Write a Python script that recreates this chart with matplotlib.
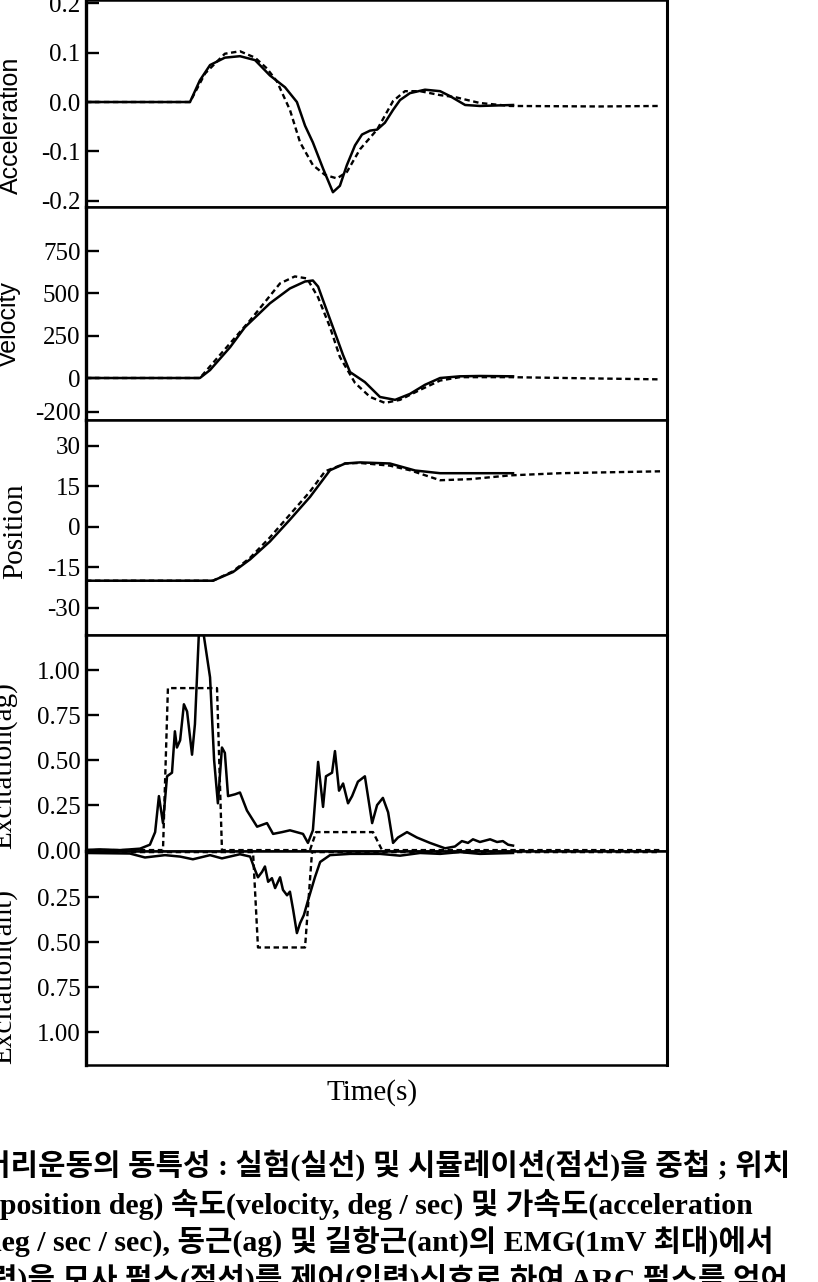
import matplotlib
matplotlib.use('Agg')
import matplotlib.pyplot as plt

# time (s) -- the original has no x tick labels, span 0..2 s
acc_t = [0, 0.358, 0.392, 0.427, 0.478, 0.530, 0.582, 0.633, 0.685, 0.726,
         0.754, 0.781, 0.816, 0.850, 0.874, 0.898, 0.926, 0.950, 0.978, 1.002,
         1.029, 1.057, 1.081, 1.115, 1.167, 1.219, 1.253, 1.305, 1.356, 1.470]
acc_exp = [0, 0, 0.044, 0.075, 0.090, 0.093, 0.085, 0.054, 0.030, 0.0,
           -0.048, -0.082, -0.135, -0.183, -0.170, -0.128, -0.088, -0.066, -0.058, -0.056,
           -0.042, -0.016, 0.004, 0.018, 0.025, 0.022, 0.012, -0.006, -0.008, -0.006]
acc_sim_t = [0, 0.358, 0.410, 0.478, 0.530, 0.582, 0.623, 0.657, 0.702, 0.737,
             0.781, 0.823, 0.864, 0.898, 0.943, 1.002, 1.057, 1.098, 1.150, 1.219,
             1.270, 1.356, 1.460, 1.769, 1.976]
acc_sim = [0, 0, 0.058, 0.098, 0.103, 0.090, 0.068, 0.042, -0.016, -0.082,
           -0.128, -0.148, -0.155, -0.142, -0.096, -0.056, 0.002, 0.022, 0.022, 0.014,
           0.010, -0.002, -0.008, -0.009, -0.008]

vel_t = [0, 0.392, 0.427, 0.496, 0.547, 0.633, 0.702, 0.754, 0.781, 0.799, 0.816,
         0.850, 0.885, 0.909, 0.960, 1.012, 1.064, 1.115, 1.167, 1.219, 1.287, 1.356, 1.470]
vel_exp = [0, 0, 47, 182, 300, 441, 529, 570, 576, 540, 459,
           300, 135, 35, -24, -112, -129, -94, -40, 0, 10, 12, 10]
vel_sim_t = [0, 0.392, 0.565, 0.668, 0.719, 0.761, 0.799, 0.840, 0.874, 0.926,
             0.978, 1.029, 1.081, 1.150, 1.219, 1.287, 1.460, 1.769, 1.976]
vel_sim = [0, 0, 341, 559, 600, 588, 476, 300, 124, -29,
           -112, -147, -129, -70, -15, 5, 5, -3, -8]

pos_t = [0, 0.437, 0.506, 0.565, 0.633, 0.702, 0.771, 0.840, 0.892, 0.943, 1.046, 1.133, 1.219, 1.470]
pos_exp = [-20, -20, -16.8, -12.1, -5.5, 2.6, 11.0, 20.9, 23.4, 23.8, 23.4, 20.8, 19.8, 19.8]
pos_sim_t = [0, 0.437, 0.506, 0.565, 0.633, 0.702, 0.771, 0.823, 0.892, 0.943,
             1.046, 1.115, 1.219, 1.322, 1.460, 1.632, 1.976]
pos_sim = [-20, -20, -16.5, -11.5, -4.0, 4.5, 13.0, 20.5, 23.4, 23.6,
           22.6, 20.9, 17.2, 17.6, 19.0, 19.8, 20.5]

ag_t = [0, 0.048, 0.117, 0.186, 0.220, 0.238, 0.251, 0.265, 0.279, 0.296,
        0.306, 0.313, 0.324, 0.337, 0.348, 0.365, 0.375, 0.389, 0.403, 0.427,
        0.441, 0.454, 0.468, 0.478, 0.489, 0.513, 0.530, 0.554, 0.589, 0.623,
        0.644, 0.675, 0.702, 0.747, 0.764, 0.781, 0.799, 0.816, 0.826, 0.847,
        0.857, 0.871, 0.885, 0.902, 0.916, 0.936, 0.960, 0.985, 1.002, 1.022,
        1.040, 1.057, 1.074, 1.105, 1.139, 1.184, 1.236, 1.270, 1.294, 1.315,
        1.332, 1.356, 1.391, 1.415, 1.435, 1.453, 1.470]
ag_exp = [0.0, 0.004, 0.0, 0.008, 0.03, 0.10, 0.30, 0.15, 0.41, 0.43,
          0.66, 0.57, 0.61, 0.81, 0.77, 0.53, 0.70, 1.22, 1.22, 0.96,
          0.50, 0.26, 0.57, 0.54, 0.30, 0.31, 0.32, 0.22, 0.13, 0.15,
          0.09, 0.10, 0.11, 0.09, 0.04, 0.11, 0.49, 0.24, 0.41, 0.43,
          0.55, 0.33, 0.37, 0.26, 0.30, 0.38, 0.41, 0.15, 0.25, 0.29,
          0.21, 0.04, 0.07, 0.10, 0.07, 0.04, 0.01, 0.02, 0.05, 0.04,
          0.06, 0.045, 0.06, 0.045, 0.05, 0.03, 0.025]
ag_sim_t = [0, 0.265, 0.282, 0.451, 0.468, 0.771, 0.792, 0.988, 1.019, 1.976]
ag_sim = [0, 0, 0.9, 0.9, 0, 0, 0.1, 0.1, 0, 0]

ant_t = [0, 0.151, 0.203, 0.272, 0.324, 0.368, 0.427, 0.468, 0.530, 0.565,
         0.582, 0.592, 0.606, 0.616, 0.627, 0.640, 0.651, 0.668, 0.678, 0.692,
         0.702, 0.713, 0.726, 0.737, 0.750, 0.764, 0.788, 0.806, 0.840, 0.909,
         1.012, 1.081, 1.150, 1.219, 1.287, 1.356, 1.470]
ant_exp = [0.005, 0.008, 0.03, 0.017, 0.025, 0.04, 0.017, 0.035, 0.012, 0.025,
           0.10, 0.14, 0.11, 0.08, 0.165, 0.145, 0.20, 0.14, 0.21, 0.24,
           0.22, 0.32, 0.45, 0.395, 0.35, 0.27, 0.14, 0.055, 0.017, 0.01,
           0.01, 0.02, 0.005, 0.01, 0.0, 0.01, 0.005]
ant_sim_t = [0, 0.575, 0.592, 0.754, 0.778, 1.976]
ant_sim = [0, 0, 0.53, 0.53, 0, 0]

caption = [
    "머리운동의 동특성 : 실험(실선) 및 시뮬레이션(점선)을 중첩 ; 위치",
    "(position deg) 속도(velocity, deg / sec) 및 가속도(acceleration",
    "deg / sec / sec), 동근(ag) 및 길항근(ant)의 EMG(1mV 최대)에서",
    "력)을 모사 펄스(점선)를 제어(입력)신호로 하여 ARC 펄스를 얻어",
]

W, H = 818, 1282
plt.rcParams['font.family'] = ['Liberation Serif', 'DejaVu Serif']

fig = plt.figure(figsize=(W / 100, H / 100), dpi=100)
fig.patch.set_facecolor('white')


def box(top, bottom):
    return [86 / W, 1 - bottom / H, 581 / W, (bottom - top) / H]


def style(ax, ylim, ticks, labels):
    ax.set_xlim(0, 2.0)
    ax.set_ylim(*ylim)
    ax.set_yticks(ticks)
    ax.set_yticklabels(labels)
    ax.tick_params(axis='y', direction='in', length=9.5, width=1.7, pad=4, labelsize=18)
    ax.tick_params(axis='x', bottom=False, labelbottom=False)
    for s in ax.spines.values():
        s.set_linewidth(1.8)
    ax.spines['left'].set_linewidth(2.4)
    ax.spines['right'].set_linewidth(2.2)


def draw(ax, t, y, ts, ys):
    ax.plot(t, y, color='black', lw=1.8)
    ax.plot(ts, ys, color='black', lw=1.7, dashes=(2.3, 1.5))


ax_acc = fig.add_axes(box(0, 207))
draw(ax_acc, acc_t, acc_exp, acc_sim_t, acc_sim)
style(ax_acc, (-0.213, 0.207), [-0.2, -0.1, 0, 0.1, 0.2], ['-0.2', '-0.1', '0.0', '0.1', '0.2'])

ax_vel = fig.add_axes(box(207, 420))
draw(ax_vel, vel_t, vel_exp, vel_sim_t, vel_sim)
style(ax_vel, (-248, 1010), [-200, 0, 250, 500, 750], ['-200', '0', '250', '500', '750'])

ax_pos = fig.add_axes(box(420, 635))
draw(ax_pos, pos_t, pos_exp, pos_sim_t, pos_sim)
style(ax_pos, (-40.1, 39.5), [-30, -15, 0, 15, 30], ['-30', '-15', '0', '15', '30'])

ax_ag = fig.add_axes(box(635, 851))
draw(ax_ag, ag_t, ag_exp, ag_sim_t, ag_sim)
style(ax_ag, (-0.005, 1.195), [0, 0.25, 0.5, 0.75, 1.0], ['0.00', '0.25', '0.50', '0.75', '1.00'])

ax_ant = fig.add_axes(box(851, 1065))
draw(ax_ant, ant_t, ant_exp, ant_sim_t, ant_sim)
style(ax_ant, (1.183, -0.006), [0.25, 0.5, 0.75, 1.0], ['0.25', '0.50', '0.75', '1.00'])


def ptext(x, y, s, **kw):
    fig.text(x / W, 1 - y / H, s, **kw)


ptext(23, 125, 'Acceleration', rotation=90, ha='right', va='center',
      family='Liberation Sans', fontsize=18)
ptext(21, 324, 'Velocity', rotation=90, ha='right', va='center',
      family='Liberation Sans', fontsize=18)
ptext(28, 531, 'Position', rotation=90, ha='right', va='center', fontsize=21)
ptext(17, 766, 'Excitation(ag)', rotation=90, ha='right', va='center', fontsize=21)
ptext(17, 977, 'Excitation(ant)', rotation=90, ha='right', va='center', fontsize=21)
ptext(372, 1093, 'Time(s)', ha='center', va='center', fontsize=21)

cap_x = [-17, -10, -15, -10]
cap_y = [1165, 1204, 1241, 1279]
for x, y, line in zip(cap_x, cap_y, caption):
    ptext(x, y, line, ha='left', va='center', fontsize=21.5, fontweight='bold',
          family=['Liberation Serif', 'Noto Sans CJK KR'])

fig.savefig('out.png', dpi=100, facecolor='white')
